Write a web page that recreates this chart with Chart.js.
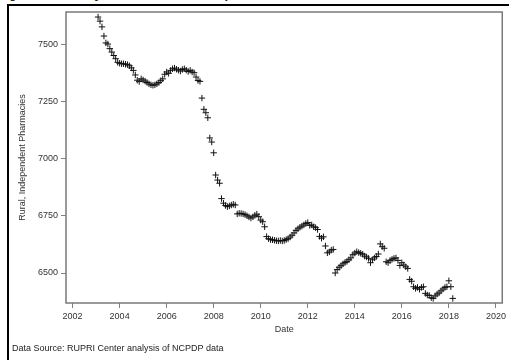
<!DOCTYPE html>
<html>
<head>
<meta charset="utf-8">
<script src="https://cdn.jsdelivr.net/npm/chart.js@4/dist/chart.umd.min.js"></script>
<style>
  html, body { margin: 0; padding: 0; background: #fff; overflow: hidden; }
  body { width: 509px; height: 360px; position: relative; font-family: "Liberation Sans", Arial, sans-serif; }
  #frame { position: absolute; left: 7px; top: 4px; width: 600px; height: 500px; border-left: 2px solid #000; border-top: 2px solid #000; }
  #title { position: absolute; left: -2px; top: -13px; font-size: 12.5px; font-weight: bold; color: #222; white-space: nowrap; }
  #source { position: absolute; left: 12px; top: 343px; font-size: 9px; color: #222; white-space: nowrap; }
  #chart { position: absolute; left: 0; top: 0; }
</style>
</head>
<body>
<div id="title">Figure 1. Monthly Count of Rural, Independent Pharmacies, 2003-2018</div>
<div id="frame"></div>
<canvas id="chart" width="509" height="360"></canvas>
<div id="source">Data Source: RUPRI Center analysis of NCPDP data</div>
<script>
// monthly counts, first value is Feb 2003
const startYear = 2003;
const startMonth = 2;
const counts = [
    7618, 7600, 7575, 7535, 7505, 7500, 7480, 7465, 7450, 7436, 7420,           // 2003
    7416, 7414, 7414, 7412, 7410, 7405, 7396, 7385, 7365, 7342, 7336, 7348,     // 2004
    7343, 7338, 7332, 7326, 7322, 7320, 7322, 7326, 7332, 7340, 7348, 7368,     // 2005
    7378, 7372, 7385, 7392, 7395, 7390, 7386, 7382, 7389, 7392, 7386, 7380,     // 2006
    7385, 7378, 7375, 7356, 7341, 7337, 7264, 7215, 7200, 7178, 7090, 7072,     // 2007
    7025, 6928, 6906, 6892, 6825, 6805, 6795, 6790, 6793, 6797, 6800, 6797,     // 2008
    6758, 6761, 6760, 6758, 6755, 6750, 6745, 6740, 6745, 6752, 6757, 6746,     // 2009
    6731, 6724, 6702, 6659, 6650, 6646, 6645, 6643, 6641, 6640, 6642, 6640,     // 2010
    6642, 6646, 6650, 6657, 6665, 6675, 6686, 6693, 6700, 6705, 6710, 6716,     // 2011
    6720, 6708, 6710, 6702, 6698, 6690, 6660, 6652, 6658, 6618, 6588, 6592,     // 2012
    6600, 6603, 6500, 6515, 6525, 6532, 6540, 6546, 6551, 6558, 6566, 6580,     // 2013
    6587, 6593, 6589, 6586, 6582, 6574, 6570, 6564, 6545, 6558, 6566, 6572,     // 2014
    6583, 6627, 6615, 6608, 6549, 6545, 6555, 6560, 6564, 6566, 6555, 6533,     // 2015
    6545, 6535, 6527, 6520, 6472, 6464, 6440, 6433, 6437, 6429, 6437, 6440,     // 2016
    6411, 6404, 6402, 6392, 6389, 6400, 6408, 6413, 6422, 6430, 6437, 6440,     // 2017
    6466, 6440, 6389                                                            // 2018
];
const xTicks = [2002, 2004, 2006, 2008, 2010, 2012, 2014, 2016, 2018, 2020];
const yTicks = [6500, 6750, 7000, 7250, 7500];

// turn month index into a decimal year
const points = counts.map((v, i) => ({
    x: startYear + (startMonth - 1 + i) / 12,
    y: v
}));

const family = '"Liberation Sans", Arial, sans-serif';
const textColor = '#333';

// gray box round the plot area
const plotBox = {
    id: 'plotBox',
    afterDraw(chart) {
        const a = chart.chartArea;
        const ctx = chart.ctx;
        ctx.save();
        ctx.strokeStyle = '#7a7a7a';
        ctx.lineWidth = 1.5;
        ctx.strokeRect(a.left, a.top, a.right - a.left, a.bottom - a.top);
        ctx.restore();
    }
};

new Chart(document.getElementById('chart'), {
    type: 'scatter',
    data: {
        datasets: [{
            data: points,
            pointStyle: 'cross',
            pointRadius: 3.2,
            borderColor: '#111',
            backgroundColor: '#111',
            borderWidth: 1
        }]
    },
    options: {
        responsive: false,
        animation: false,
        layout: { padding: { left: 0, right: 5, top: 12, bottom: 0 } },
        plugins: {
            legend: { display: false },
            tooltip: { enabled: false }
        },
        scales: {
            x: {
                type: 'linear',
                min: 2001.72,
                max: 2020.27,
                afterBuildTicks: s => { s.ticks = xTicks.map(v => ({ value: v })); },
                afterFit: s => { s.height = 57; },
                border: { display: false },
                grid: { drawOnChartArea: false, drawTicks: true, tickLength: 5, color: '#808080' },
                ticks: {
                    autoSkip: false, maxRotation: 0, padding: 3,
                    color: textColor, font: { family, size: 9 },
                    callback: v => String(v)
                },
                title: {
                    display: true, text: 'Date', color: textColor,
                    font: { family, size: 9 }, padding: { top: 0, bottom: 24.6 }
                }
            },
            y: {
                min: 6369,
                max: 7640,
                afterBuildTicks: s => { s.ticks = yTicks.map(v => ({ value: v })); },
                afterFit: s => { s.width = 66; },
                border: { display: false },
                grid: { drawOnChartArea: false, drawTicks: true, tickLength: 5, color: '#808080' },
                ticks: {
                    padding: 3, color: textColor, font: { family, size: 9 },
                    callback: v => String(v)
                },
                title: {
                    display: true, text: 'Rural, Independent Pharmacies', color: textColor,
                    font: { family, size: 9 }, padding: { top: 17.6, bottom: 0 }
                }
            }
        }
    },
    plugins: [plotBox]
});
</script>
</body>
</html>
